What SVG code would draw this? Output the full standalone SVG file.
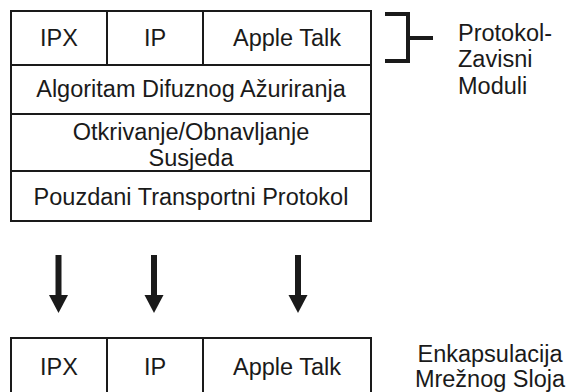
<svg xmlns="http://www.w3.org/2000/svg" width="570" height="392" viewBox="0 0 570 392">
<style>
.box{fill:#fff;stroke:#1a1a1a;stroke-width:2}
.t{font-family:"Liberation Sans",Arial,sans-serif;font-size:23.5px;fill:#1a1a1a;text-anchor:middle}
.l{font-family:"Liberation Sans",Arial,sans-serif;font-size:23.5px;fill:#1a1a1a}
.br{fill:none;stroke:#1a1a1a;stroke-width:4}
.ar{stroke:#1a1a1a;stroke-width:6}
.ah{fill:#1a1a1a}
</style>
<rect width="570" height="392" fill="#fff"/>
<g id="top-stack">
<g id="ipx"><rect class="box" x="11" y="11" width="96" height="54"/><text class="t" x="59" y="46">IPX</text></g>
<g id="ip"><rect class="box" x="107" y="11" width="96" height="54"/><text class="t" x="155" y="46">IP</text></g>
<g id="appletalk"><rect class="box" x="203" y="11" width="168" height="54"/><text class="t" x="287" y="46">Apple Talk</text></g>
<g id="dual"><rect class="box" x="11" y="65" width="360" height="49"/><text class="t" x="191" y="97">Algoritam Difuznog Ažuriranja</text></g>
<g id="neighbor"><rect class="box" x="11" y="114" width="360" height="57"/><text class="t" x="191" y="140">Otkrivanje/Obnavljanje</text><text class="t" x="191" y="166">Susjeda</text></g>
<g id="rtp"><rect class="box" x="11" y="171" width="360" height="50"/><text class="t" x="191" y="205">Pouzdani Transportni Protokol</text></g>
</g>
<g id="pdm-label">
<path class="br" d="M385,14 H408 V61 H385 M408,38 H433"/>
<text class="l" x="458" y="41">Protokol-</text>
<text class="l" x="458" y="67">Zavisni</text>
<text class="l" x="458" y="94">Moduli</text>
</g>
<g id="connectors">
<line class="ar" x1="58.5" y1="255" x2="58.5" y2="297"/>
<path class="ah" d="M49,295 L68,295 L58.5,313 Z"/>
<line class="ar" x1="154" y1="255" x2="154" y2="297"/>
<path class="ah" d="M144.5,295 L163.5,295 L154,313 Z"/>
<line class="ar" x1="298" y1="255" x2="298" y2="297"/>
<path class="ah" d="M288.5,295 L307.5,295 L298,313 Z"/>
</g>
<g id="bottom-stack">
<g id="ipx2"><rect class="box" x="11" y="338" width="96" height="70"/><text class="t" x="59" y="375">IPX</text></g>
<g id="ip2"><rect class="box" x="107" y="338" width="96" height="70"/><text class="t" x="155" y="375">IP</text></g>
<g id="appletalk2"><rect class="box" x="203" y="338" width="168" height="70"/><text class="t" x="287" y="375">Apple Talk</text></g>
</g>
<g id="encap-label">
<text class="t" x="490" y="362">Enkapsulacija</text>
<text class="t" x="490" y="387">Mrežnog Sloja</text>
</g>
</svg>
